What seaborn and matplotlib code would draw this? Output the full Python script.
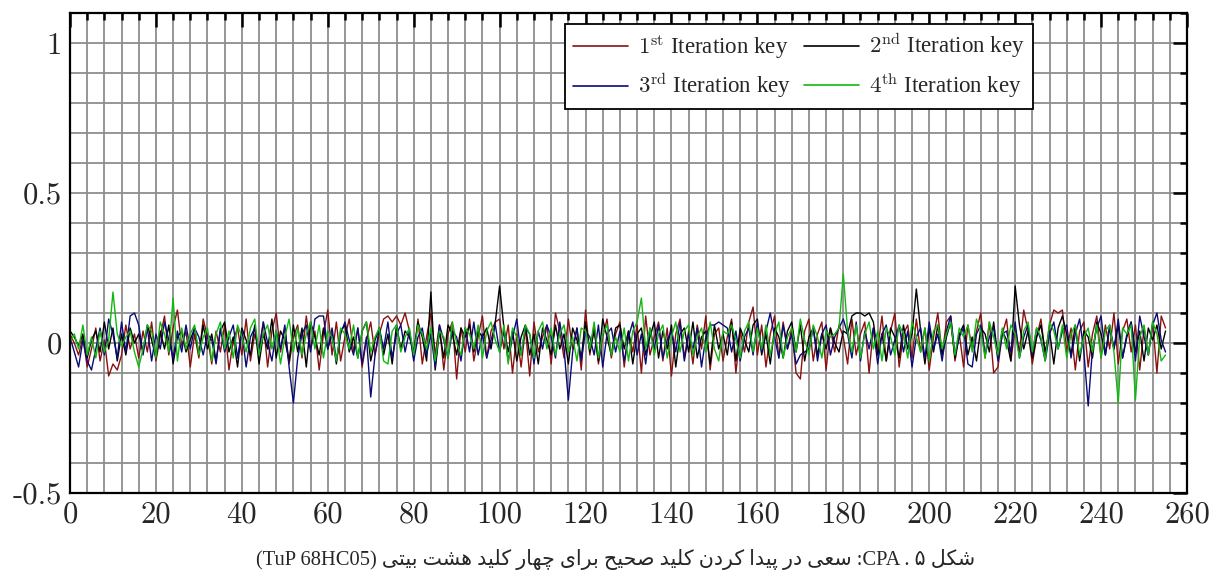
import numpy as np
import pandas as pd
import matplotlib
matplotlib.use("Agg")
import matplotlib.pyplot as plt
from matplotlib.ticker import MultipleLocator
import seaborn as sns

# correlation per key guess (0..255)
key1 = [0.03, 0.00, -0.04, 0.02, -0.08, -0.02, 0.05, -0.06, 0.01, -0.11, -0.07, -0.09, -0.04, 0.06, -0.02, 0.03,
        -0.05, 0.04, -0.03, 0.07, -0.06, 0.02, 0.09, -0.04, 0.05, 0.11, -0.01, 0.04, -0.08, 0.03, -0.05, 0.08,
        0.02, -0.07, 0.04, -0.03, 0.06, -0.09, 0.01, 0.05, -0.04, 0.08, -0.06, 0.03, -0.02, 0.07, -0.08, 0.04,
        0.10, -0.03, 0.05, -0.07, 0.02, 0.06, -0.05, 0.09, -0.02, 0.04, -0.09, 0.03, 0.11, -0.04, 0.07, -0.06,
        0.02, 0.08, -0.03, 0.05, -0.08, 0.01, 0.07, -0.04, 0.03, 0.08, 0.09, 0.07, 0.09, 0.06, 0.10, 0.04,
        -0.05, 0.08, -0.07, 0.02, 0.10, -0.04, 0.06, -0.09, 0.03, 0.07, -0.12, 0.05, -0.03, 0.08, -0.06, 0.02,
        0.09, -0.05, 0.04, 0.07, 0.08, -0.02, 0.06, -0.10, 0.03, -0.08, 0.05, -0.11, 0.07, -0.03, 0.02, 0.06,
        -0.07, 0.10, 0.04, -0.05, 0.08, -0.02, 0.05, -0.09, 0.11, -0.04, 0.06, -0.07, 0.02, 0.08, -0.05, 0.03,
        0.07, -0.08, 0.04, -0.03, 0.06, -0.10, 0.09, -0.04, 0.02, 0.07, -0.06, 0.05, -0.11, 0.03, 0.08, -0.05,
        0.04, -0.07, 0.06, -0.02, 0.09, -0.09, 0.03, 0.05, -0.06, 0.02, 0.08, -0.10, 0.04, -0.03, 0.07, 0.12,
        -0.04, 0.06, -0.08, 0.03, 0.09, -0.05, 0.07, -0.02, 0.05, -0.10, -0.12, 0.04, 0.08, -0.06, 0.03, 0.07,
        -0.09, 0.05, -0.03, 0.06, 0.02, -0.07, 0.08, -0.04, 0.03, 0.07, -0.10, 0.05, -0.02, 0.09, -0.06, 0.04,
        0.10, -0.08, 0.03, 0.06, -0.05, 0.08, -0.03, 0.05, -0.09, 0.02, 0.10, -0.04, 0.07, 0.09, -0.06, 0.03,
        -0.08, 0.06, -0.02, 0.04, 0.10, -0.05, 0.07, -0.10, -0.08, 0.03, 0.08, -0.06, 0.05, -0.03, 0.11, 0.04,
        -0.07, 0.02, 0.08, -0.04, 0.06, 0.11, 0.10, 0.11, -0.03, 0.05, -0.09, 0.04, 0.07, -0.08, 0.03, 0.09,
        -0.05, 0.06, -0.02, 0.10, -0.07, 0.04, 0.08, -0.03, 0.06, -0.09, 0.05, -0.04, 0.07, -0.10, 0.09, 0.05]

key2 = [0.04, 0.02, -0.01, 0.03, -0.05, 0.01, 0.04, -0.03, 0.07, -0.02, 0.05, -0.06, 0.03, -0.04, 0.05, 0.00,
        0.03, -0.03, 0.06, 0.01, -0.05, 0.04, -0.02, 0.06, -0.07, 0.02, 0.04, -0.03, 0.01, 0.05, -0.04, 0.06,
        -0.02, 0.03, -0.06, 0.04, 0.07, -0.03, 0.02, -0.08, 0.05, 0.01, -0.04, 0.06, -0.07, 0.03, -0.02, 0.08,
        -0.05, 0.04, 0.01, -0.06, 0.06, -0.03, 0.05, -0.08, 0.07, 0.02, -0.04, 0.05, -0.02, 0.03, -0.07, 0.04,
        0.06, -0.03, 0.02, -0.05, 0.04, 0.07, -0.06, 0.01, 0.05, -0.04, 0.03, -0.07, 0.06, -0.02, 0.04, 0.02,
        -0.03, 0.07, 0.02, -0.06, 0.17, -0.09, 0.04, -0.05, 0.06, 0.03, -0.04, 0.05, 0.02, 0.06, -0.03, 0.04,
        0.02, 0.05, -0.02, 0.07, 0.19, 0.05, -0.03, 0.04, -0.06, 0.02, 0.06, -0.04, 0.03, -0.07, 0.05, 0.01,
        -0.04, 0.06, -0.02, 0.03, -0.07, 0.05, 0.01, -0.05, 0.07, -0.03, 0.04, -0.06, 0.08, 0.02, -0.04, 0.05,
        0.06, -0.02, 0.04, -0.07, 0.03, 0.05, -0.04, 0.02, 0.07, -0.05, 0.04, -0.02, 0.06, -0.08, 0.03, 0.05,
        -0.03, 0.07, -0.05, 0.02, 0.04, -0.07, 0.06, -0.02, 0.03, -0.04, 0.07, -0.06, 0.05, 0.01, -0.03, 0.06,
        0.08, -0.04, 0.03, -0.07, 0.05, 0.02, -0.05, 0.04, 0.07, -0.03, 0.06, -0.06, 0.02, 0.05, -0.04, 0.03,
        -0.02, 0.05, 0.00, -0.03, 0.04, 0.03, 0.09, 0.10, 0.10, 0.09, 0.10, 0.07, -0.04, 0.03, -0.06, 0.05,
        0.02, -0.05, 0.06, -0.02, 0.03, 0.18, 0.04, -0.07, 0.05, -0.03, 0.06, -0.04, 0.02, 0.07, -0.05, 0.03,
        0.06, -0.04, 0.02, -0.06, 0.05, 0.03, -0.03, 0.07, -0.05, 0.04, 0.01, -0.06, 0.19, 0.06, -0.02, 0.04,
        -0.05, 0.02, 0.06, -0.03, 0.04, -0.07, 0.05, 0.09, 0.03, -0.04, 0.06, -0.06, 0.04, 0.02, -0.05, 0.07,
        0.03, -0.04, 0.05, -0.02, 0.06, -0.05, 0.02, 0.07, -0.03, 0.04, -0.06, 0.05, 0.01, 0.06, -0.02, 0.04]

key3 = [0.02, -0.03, -0.08, 0.01, -0.06, -0.09, -0.02, 0.05, -0.04, 0.08, 0.03, -0.05, 0.07, -0.03, 0.09, 0.10,
        0.06, -0.04, 0.05, -0.06, 0.03, -0.02, 0.07, 0.01, -0.05, 0.04, -0.03, 0.06, -0.02, 0.05, 0.02, -0.04,
        0.03, 0.01, -0.07, 0.05, -0.03, 0.02, 0.06, -0.05, 0.04, -0.08, 0.02, 0.05, -0.03, 0.07, 0.00, -0.06,
        0.04, -0.02, 0.06, -0.08, -0.20, -0.05, 0.03, 0.06, -0.03, 0.08, 0.09, 0.09, -0.02, 0.05, -0.06, 0.03,
        0.07, 0.01, -0.04, 0.05, -0.07, 0.02, -0.18, -0.04, 0.05, -0.02, 0.07, -0.05, 0.03, 0.06, -0.03, 0.04,
        -0.06, 0.02, 0.05, -0.04, 0.03, -0.08, 0.06, 0.01, -0.05, 0.04, 0.02, -0.06, 0.05, -0.03, 0.07, -0.04,
        0.03, -0.05, 0.01, 0.06, -0.03, 0.04, -0.06, 0.02, 0.08, -0.04, 0.05, 0.03, -0.07, 0.04, -0.02, 0.06,
        0.02, -0.05, 0.07, -0.02, -0.19, -0.03, 0.05, -0.06, 0.04, 0.02, -0.04, 0.06, -0.08, 0.03, 0.05, -0.03,
        0.04, -0.06, 0.02, 0.07, -0.04, 0.03, -0.07, 0.05, -0.02, 0.06, -0.05, 0.01, 0.04, -0.03, 0.07, -0.06,
        0.03, -0.02, 0.05, -0.08, 0.02, 0.06, 0.06, 0.07, 0.06, 0.05, -0.03, 0.04, -0.06, 0.02, 0.05, -0.04,
        0.07, -0.03, 0.04, 0.10, 0.02, -0.05, 0.06, -0.02, 0.03, -0.07, -0.04, -0.03, -0.02, 0.05, -0.06, 0.03,
        0.06, -0.04, 0.02, 0.05, 0.08, 0.03, -0.05, 0.07, -0.06, 0.04, -0.02, 0.05, -0.07, 0.03, 0.06, -0.04,
        0.01, 0.06, -0.03, 0.04, -0.08, 0.02, 0.05, -0.05, 0.07, -0.02, 0.03, -0.06, 0.04, 0.09, -0.04, 0.02,
        0.05, -0.07, -0.08, 0.03, 0.06, -0.04, 0.02, 0.05, -0.06, 0.03, 0.04, -0.03, 0.07, -0.05, 0.02, 0.06,
        -0.04, 0.05, 0.01, -0.06, 0.03, 0.07, -0.02, 0.04, 0.06, -0.05, 0.03, 0.08, -0.03, -0.21, -0.02, 0.05,
        0.09, -0.04, 0.06, -0.02, 0.08, -0.05, 0.03, 0.07, -0.06, 0.09, 0.02, -0.04, 0.06, 0.10, 0.01, -0.03]

key4 = [0.00, 0.03, -0.02, 0.06, -0.04, 0.02, -0.05, 0.04, -0.03, 0.01, 0.17, 0.03, -0.01, 0.02, 0.04, -0.03,
        -0.08, -0.02, 0.06, 0.04, -0.05, 0.07, 0.03, -0.03, 0.15, -0.06, 0.05, -0.02, 0.03, 0.06, -0.04, 0.02,
        0.05, -0.06, 0.03, 0.07, -0.02, 0.04, -0.05, 0.06, 0.02, -0.03, 0.05, 0.08, -0.04, 0.03, 0.06, -0.02,
        0.04, -0.07, 0.02, 0.08, -0.03, 0.05, -0.04, 0.03, 0.07, -0.02, 0.06, -0.05, 0.04, 0.02, -0.06, 0.05,
        0.03, -0.02, 0.06, -0.05, 0.04, 0.07, -0.03, 0.02, 0.05, -0.06, -0.07, 0.04, 0.06, -0.03, 0.02, 0.05,
        -0.04, 0.06, 0.03, -0.02, 0.05, -0.06, 0.04, 0.02, -0.05, 0.07, 0.00, -0.04, 0.05, 0.03, -0.02, 0.06,
        -0.05, 0.04, 0.07, 0.01, -0.03, 0.06, -0.07, 0.05, 0.02, -0.04, 0.06, 0.03, -0.05, 0.04, 0.07, -0.02,
        0.05, -0.04, 0.03, 0.06, -0.03, 0.02, -0.06, 0.05, 0.04, -0.02, 0.07, -0.05, 0.03, 0.06, -0.04, 0.02,
        -0.03, 0.05, -0.06, 0.04, 0.07, 0.15, -0.02, 0.05, -0.04, 0.03, 0.06, -0.05, 0.02, 0.07, -0.03, 0.04,
        0.06, -0.04, 0.02, 0.05, -0.03, 0.07, -0.02, -0.06, 0.04, 0.03, 0.06, 0.01, -0.05, 0.04, 0.07, -0.03,
        0.05, -0.02, 0.06, -0.04, 0.03, 0.07, -0.05, 0.02, 0.05, -0.03, 0.08, 0.01, -0.04, 0.06, 0.02, -0.05,
        0.04, 0.02, 0.03, 0.05, 0.23, 0.04, -0.03, 0.06, -0.05, 0.03, 0.07, -0.02, 0.04, -0.06, 0.05, 0.02,
        -0.04, 0.06, 0.03, -0.05, 0.07, 0.02, -0.03, 0.05, -0.06, 0.04, 0.06, -0.02, 0.03, 0.07, -0.04, 0.05,
        0.02, 0.06, -0.03, 0.08, 0.04, -0.05, 0.07, 0.02, -0.04, 0.05, -0.02, 0.06, 0.03, -0.05, 0.04, 0.07,
        -0.03, 0.05, 0.02, -0.06, 0.07, 0.04, -0.02, 0.06, -0.05, 0.03, 0.06, -0.04, 0.02, 0.05, -0.03, 0.06,
        -0.05, 0.04, 0.06, -0.03, -0.20, 0.05, 0.03, 0.06, -0.19, 0.02, 0.06, -0.04, 0.07, 0.03, -0.06, -0.04]

labels = [r"$1^{\rm st}$ Iteration key", r"$2^{\rm nd}$ Iteration key",
          r"$3^{\rm rd}$ Iteration key", r"$4^{\rm th}$ Iteration key"]
colors = ["#8b1010", "#000000", "#0a0a78", "#12b812"]

xticks = [0, 20, 40, 60, 80, 100, 120, 140, 160, 180, 200, 220, 240, 260]
yticks = [-0.5, 0, 0.5, 1]
ytick_labels = ["-0.5", "0", "0.5", "1"]

fig_label = "شکل ۵ ."
method = "CPA"
caption_fa = "سعی در پیدا کردن کلید صحیح برای چهار کلید هشت بیتی"
device = "TuP 68HC05"

# --- minimal persian shaping (matplotlib draws glyphs left to right, unjoined)
FORMS = {
    "ا": ("\uFE8D", "\uFE8E", None, None),
    "د": ("\uFEA9", "\uFEAA", None, None),
    "ر": ("\uFEAD", "\uFEAE", None, None),
    "ب": ("\uFE8F", "\uFE90", "\uFE91", "\uFE92"),
    "پ": ("\uFB56", "\uFB57", "\uFB58", "\uFB59"),
    "ت": ("\uFE95", "\uFE96", "\uFE97", "\uFE98"),
    "چ": ("\uFB7A", "\uFB7B", "\uFB7C", "\uFB7D"),
    "ح": ("\uFEA1", "\uFEA2", "\uFEA3", "\uFEA4"),
    "س": ("\uFEB1", "\uFEB2", "\uFEB3", "\uFEB4"),
    "ش": ("\uFEB5", "\uFEB6", "\uFEB7", "\uFEB8"),
    "ص": ("\uFEB9", "\uFEBA", "\uFEBB", "\uFEBC"),
    "ع": ("\uFEC9", "\uFECA", "\uFECB", "\uFECC"),
    "ک": ("\uFB8E", "\uFB8F", "\uFB90", "\uFB91"),
    "ل": ("\uFEDD", "\uFEDE", "\uFEDF", "\uFEE0"),
    "ن": ("\uFEE5", "\uFEE6", "\uFEE7", "\uFEE8"),
    "ه": ("\uFEE9", "\uFEEA", "\uFEEB", "\uFEEC"),
    "ی": ("\uFBFC", "\uFBFD", "\uFBFE", "\uFBFF"),
}


def rtl(s):
    out = []
    for i, c in enumerate(s):
        if c not in FORMS:
            out.append(c)
            continue
        prev = s[i - 1] if i > 0 else ""
        nxt = s[i + 1] if i + 1 < len(s) else ""
        jp = prev in FORMS and FORMS[prev][2] is not None
        jn = FORMS[c][2] is not None and nxt in FORMS
        iso, fin, ini, med = FORMS[c]
        out.append(med if (jp and jn) else fin if jp else ini if jn else iso)
    return "".join(out)[::-1]


frames = []
for lab, vals in zip(labels, [key1, key2, key3, key4]):
    frames.append(pd.DataFrame({"key": np.arange(len(vals)), "corr": vals, "series": lab}))
df = pd.concat(frames, ignore_index=True)

sns.set_theme(style="white")
plt.rcParams["mathtext.fontset"] = "cm"
plt.rcParams["font.family"] = ["Liberation Serif", "DejaVu Sans"]

fig = plt.figure(figsize=(12.12, 5.74), dpi=100)
ax = fig.add_axes([70 / 1212, 1 - 493 / 574, 1117 / 1212, 480 / 574])

sns.lineplot(data=df, x="key", y="corr", hue="series", hue_order=labels,
             palette=dict(zip(labels, colors)), linewidth=1.0, ax=ax, legend=False)

ax.set_xlim(0, 260)
ax.set_ylim(-0.5, 1.1)
ax.set_xticks(xticks)
ax.set_xticklabels([str(t) for t in xticks])
ax.set_yticks(yticks)
ax.set_yticklabels(ytick_labels)
ax.xaxis.set_minor_locator(MultipleLocator(4))
ax.yaxis.set_minor_locator(MultipleLocator(0.1))
ax.grid(which="both", color="#8e8e8e", linewidth=1.3)
ax.set_axisbelow(True)
ax.set_xlabel("")
ax.set_ylabel("")

for s in ax.spines.values():
    s.set_color("black")
    s.set_linewidth(1.6)
ax.tick_params(which="both", direction="in", top=True, right=True, color="black")
ax.tick_params(which="major", length=10, width=1.8, labelsize=22, pad=6)
ax.tick_params(which="minor", length=5, width=1.8)
for t in ax.get_xticklabels() + ax.get_yticklabels():
    t.set_fontfamily("cmr10")

# legend in row-major order
handles = [plt.Line2D([], [], color=c, linewidth=1.2) for c in colors]
order = [0, 2, 1, 3]
leg = ax.legend([handles[i] for i in order], [labels[i] for i in order], ncol=2,
                loc="upper right", bbox_to_anchor=(0.862, 0.977), borderaxespad=0,
                fancybox=False, framealpha=1, edgecolor="black", fontsize=16.5,
                handlelength=2.4, columnspacing=0.55, handletextpad=0.45,
                labelspacing=0.45, borderpad=0.35)
leg.get_frame().set_linewidth(1.3)

caption = "(" + device + ") " + rtl(caption_fa) + " :" + method + " " + rtl(fig_label)
fig.text(0.508, 0.025, caption, ha="center", va="center", fontsize=14.8,
         family=["Liberation Serif", "DejaVu Sans"])

fig.savefig("out.png", dpi=100)
